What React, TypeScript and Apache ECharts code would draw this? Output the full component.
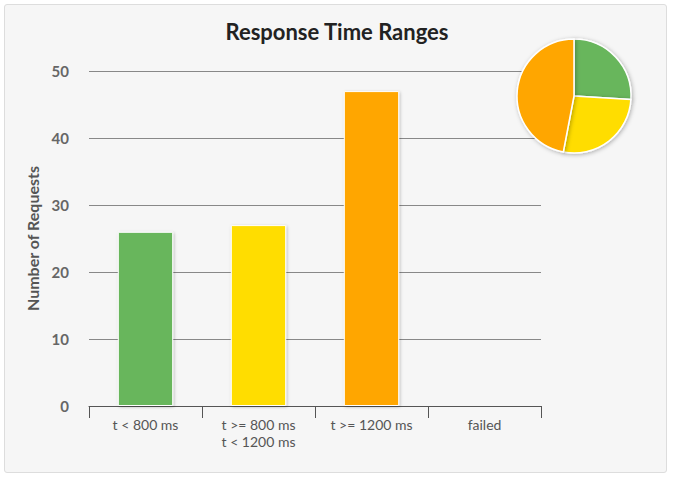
import { useEffect, useRef } from "react";
import * as echarts from "echarts";

const categories = ["t < 800 ms", "t >= 800 ms\nt < 1200 ms", "t >= 1200 ms", "failed"];
const counts = [26, 27, 47, 0];
const colors = ["#68b65c", "#ffdd00", "#ffa600", "#ff0000"];
const pieNames = ["t < 800 ms", "t >= 800 ms / t < 1200 ms", "t >= 1200 ms", "failed"];

const FONT = "Lato, 'Open Sans', sans-serif";

export default function App() {
  const chartRef = useRef<HTMLDivElement>(null);

  useEffect(() => {
    if (!chartRef.current) return;
    const chart = echarts.init(chartRef.current, undefined, { renderer: "svg" });

    const option = {
      animation: false,
      textStyle: { fontFamily: FONT },
      title: {
        text: "Response Time Ranges",
        left: "center",
        top: 15,
        textStyle: { fontFamily: FONT, fontSize: 22, fontWeight: "bold", color: "#222" },
      },
      grid: { left: 89, right: 133, top: 71, bottom: 75 },
      xAxis: {
        type: "category",
        data: categories,
        axisLine: { lineStyle: { color: "#555", width: 1 } },
        axisTick: { show: true, length: 12, interval: 0, lineStyle: { color: "#555", width: 1 } },
        axisLabel: {
          interval: 0,
          color: "#555",
          fontSize: 14,
          margin: 10,
          lineHeight: 17,
          fontFamily: FONT,
        },
      },
      yAxis: {
        type: "value",
        min: 0,
        max: 50,
        interval: 10,
        name: "Number of Requests",
        nameLocation: "middle",
        nameGap: 48,
        nameTextStyle: { color: "#555", fontSize: 16, fontWeight: "bold", fontFamily: FONT },
        axisLine: { show: false },
        axisTick: { show: false },
        axisLabel: { color: "#666", fontSize: 15, fontWeight: "bold", margin: 20, fontFamily: FONT },
        splitLine: { lineStyle: { color: "#888", width: 1 } },
      },
      series: [
        {
          type: "bar",
          barWidth: "49%",
          data: counts.map((v, i) => ({ value: v, itemStyle: { color: colors[i] } })),
          itemStyle: {
            borderColor: "#fff",
            borderWidth: 1,
            shadowBlur: 3,
            shadowColor: "rgba(0,0,0,0.25)",
            shadowOffsetX: 1,
            shadowOffsetY: 1,
          },
        },
        {
          type: "pie",
          center: [574, 96],
          radius: 57,
          startAngle: 90,
          clockwise: true,
          label: { show: false },
          labelLine: { show: false },
          data: counts.map((v, i) => ({ name: pieNames[i], value: v, itemStyle: { color: colors[i] } })),
          itemStyle: {
            borderColor: "#fff",
            borderWidth: 1.5,
            shadowBlur: 4,
            shadowColor: "rgba(0,0,0,0.3)",
            shadowOffsetX: 1,
            shadowOffsetY: 1,
          },
        },
      ],
    };

    chart.setOption(option);
    return () => chart.dispose();
  }, []);

  return (
    <div style={{ position: "fixed", left: 0, top: 0, width: 674, height: 481, background: "#fff" }}>
      <div
        style={{
          position: "absolute",
          left: 4,
          top: 4,
          width: 661,
          height: 467,
          background: "#f6f6f6",
          border: "1px solid #dddddd",
          borderRadius: 3,
        }}
      />
      <div ref={chartRef} style={{ position: "absolute", left: 0, top: 0, width: 674, height: 481 }} />
    </div>
  );
}
